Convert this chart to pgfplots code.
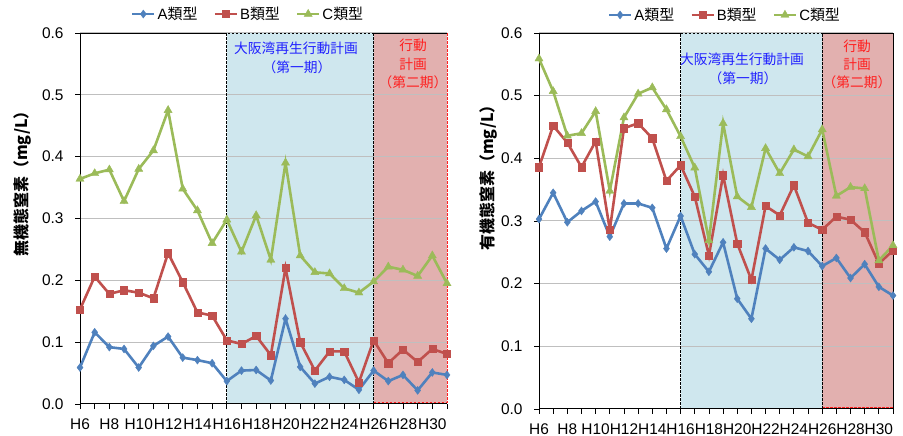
\documentclass[border=0pt]{standalone}
\usepackage{fontspec}
\setmainfont{Liberation Sans}
\newfontfamily\jp{Noto Sans CJK JP}
\usepackage{pgfplots}
\pgfplotsset{compat=1.18}
\usepackage{pgfplotstable}

\definecolor{cA}{HTML}{4F81BD}
\definecolor{cB}{HTML}{C0504D}
\definecolor{cC}{HTML}{9BBB59}
\definecolor{regB}{HTML}{CFE7EE}
\definecolor{regR}{HTML}{E2B0AF}
\definecolor{txtB}{HTML}{2020FF}
\definecolor{txtR}{HTML}{FF2020}
\definecolor{gridc}{HTML}{BFBFBF}

\pgfplotstableread{
i A B C
0 0.059 0.153 0.364
1 0.116 0.206 0.373
2 0.092 0.178 0.379
3 0.089 0.184 0.328
4 0.059 0.180 0.380
5 0.094 0.171 0.410
6 0.109 0.244 0.475
7 0.075 0.197 0.348
8 0.071 0.148 0.313
9 0.066 0.143 0.260
10 0.037 0.103 0.298
11 0.054 0.097 0.246
12 0.055 0.110 0.305
13 0.038 0.079 0.233
14 0.138 0.220 0.390
15 0.060 0.100 0.240
16 0.033 0.054 0.213
17 0.044 0.085 0.211
18 0.039 0.085 0.187
19 0.023 0.035 0.180
20 0.054 0.103 0.198
21 0.037 0.066 0.222
22 0.047 0.088 0.217
23 0.022 0.068 0.207
24 0.051 0.089 0.240
25 0.047 0.081 0.195
}\inorg

\pgfplotstableread{
i A B C
0 0.303 0.386 0.559
1 0.345 0.452 0.507
2 0.298 0.425 0.436
3 0.316 0.386 0.440
4 0.331 0.427 0.475
5 0.275 0.286 0.348
6 0.328 0.448 0.465
7 0.328 0.456 0.503
8 0.321 0.432 0.513
9 0.256 0.364 0.478
10 0.308 0.389 0.435
11 0.247 0.339 0.385
12 0.219 0.245 0.269
13 0.266 0.373 0.456
14 0.176 0.264 0.339
15 0.144 0.206 0.322
16 0.256 0.324 0.416
17 0.238 0.309 0.376
18 0.258 0.357 0.414
19 0.252 0.297 0.403
20 0.228 0.286 0.446
21 0.241 0.307 0.340
22 0.209 0.302 0.354
23 0.231 0.282 0.352
24 0.195 0.232 0.237
25 0.181 0.253 0.261
}\orgn

\pgfplotsset{
  mystyle/.style={
    scale only axis,
    anchor=south west,
    xmin=0, xmax=25, ymin=0, ymax=0.6,
    xtick={0,...,25},
    xticklabels={H6,,H8,,H10,,H12,,H14,,H16,,H18,,H20,,H22,,H24,,H26,,H28,,H30,},
    ytick={0,0.1,0.2,0.3,0.4,0.5,0.6},
    yticklabel style={xshift=-8bp, /pgf/number format/.cd, fixed, fixed zerofill, precision=1, assume math mode=true},
    xticklabel style={yshift=-6bp},
    ymajorgrids,
    grid style={gridc, line width=1bp},
    axis x line*=bottom, axis y line*=left,
    axis line style={black, line width=1bp, -},
    tick align=outside,
    major tick length=5bp,
    tick style={black, line width=0.8bp},
    ticklabel style={font=\fontsize{15.5}{18}\selectfont},
    clip=false,
    set layers,
    legend columns=3,
    legend style={draw=none, fill=none, font=\fontsize{15}{18}\selectfont, anchor=center,
      /tikz/every even column/.append style={column sep=14bp}},
    legend image code/.code={\draw[mark repeat=2,mark phase=2] plot coordinates {(0bp,0bp) (11bp,0bp) (22bp,0bp)};},
  },
  sA/.style={color=cA, line width=2.6bp, mark=diamond*, mark size=4bp, mark options={solid, line width=0.4bp}},
  sB/.style={color=cB, line width=2.6bp, mark=square*, mark size=3.6bp, mark options={solid, line width=0.4bp}},
  sC/.style={color=cC, line width=2.6bp, mark=triangle*, mark size=4.7bp, mark options={solid, line width=0.4bp}},
}

\begin{document}
\begin{tikzpicture}

% ---------- left panel ----------
\begin{axis}[mystyle, at={(80bp,32bp)}, width=367bp, height=371bp,
  legend style={at={(0.458,1.051)}}]
\begin{pgfonlayer}{axis background}
\fill[regB] (axis cs:10,0) rectangle (axis cs:20,0.6);
\fill[regR] (axis cs:20,0) rectangle (axis cs:25,0.6);
\end{pgfonlayer}
\begin{pgfonlayer}{pre main}
\draw[black, line width=0.8bp] (axis cs:0,0.6) -- (axis cs:10,0.6);
\draw[black, line width=0.8bp] (axis cs:20,0.6) -- (axis cs:25,0.6);
\draw[txtR, line width=0.8bp, dash pattern=on 2.5bp off 1.5bp] (axis cs:20,0.003) -- (axis cs:25,0.003) -- (axis cs:25,0.6);
\draw[black, line width=0.8bp, dash pattern=on 2.5bp off 1.5bp] (axis cs:10,0) -- (axis cs:10,0.6) -- (axis cs:20,0.6) (axis cs:20,0) -- (axis cs:20,0.6);
\end{pgfonlayer}
\addplot[sA] table[x=i, y=A] {\inorg};
\addlegendentry{A{\jp 類型}}
\addplot[sB] table[x=i, y=B] {\inorg};
\addlegendentry{B{\jp 類型}}
\addplot[sC] table[x=i, y=C] {\inorg};
\addlegendentry{C{\jp 類型}}
\end{axis}

% ---------- right panel ----------
\begin{axis}[mystyle, at={(539bp,27bp)}, width=354bp, height=376bp,
  legend style={at={(0.525,1.048)}}]
\begin{pgfonlayer}{axis background}
\fill[regB] (axis cs:10,0) rectangle (axis cs:20,0.6);
\fill[regR] (axis cs:20,0) rectangle (axis cs:25,0.6);
\end{pgfonlayer}
\begin{pgfonlayer}{pre main}
\draw[black, line width=0.8bp] (axis cs:0,0.6) -- (axis cs:10,0.6);
\draw[black, line width=0.8bp] (axis cs:20,0.6) -- (axis cs:25,0.6) -- (axis cs:25,0);
\draw[txtR, line width=0.8bp, dash pattern=on 2.5bp off 1.5bp] (axis cs:20,0.003) -- (axis cs:25,0.003);
\draw[black, line width=0.8bp, dash pattern=on 2.5bp off 1.5bp] (axis cs:10,0) -- (axis cs:10,0.6) -- (axis cs:20,0.6) (axis cs:20,0) -- (axis cs:20,0.6);
\end{pgfonlayer}
\addplot[sA] table[x=i, y=A] {\orgn};
\addlegendentry{A{\jp 類型}}
\addplot[sB] table[x=i, y=B] {\orgn};
\addlegendentry{B{\jp 類型}}
\addplot[sC] table[x=i, y=C] {\orgn};
\addlegendentry{C{\jp 類型}}
\end{axis}

% ---------- annotations ----------
\begin{scope}[every node/.style={font=\jp\fontsize{13.8}{16}\selectfont, inner sep=0pt}]
\node[text=txtB] at (296bp,388bp) {大阪湾再生行動計画};
\node[text=txtB] at (297bp,369bp) {（第一期）};
\node[text=txtR] at (413bp,391bp) {行動};
\node[text=txtR] at (413bp,372bp) {計画};
\node[text=txtR] at (413bp,354bp) {（第二期）};
\node[text=txtB] at (742bp,377bp) {大阪湾再生行動計画};
\node[text=txtB] at (743bp,358bp) {（第一期）};
\node[text=txtR] at (857bp,390bp) {行動};
\node[text=txtR] at (857bp,372bp) {計画};
\node[text=txtR] at (857bp,354bp) {（第二期）};
\end{scope}
\node[rotate=90, font=\jp\bfseries\fontsize{16}{18}\selectfont, inner sep=0pt] at (23bp,256bp) {無機態窒素（mg/L）};
\node[rotate=90, font=\jp\bfseries\fontsize{16}{18}\selectfont, inner sep=0pt] at (489bp,262bp) {有機態窒素（mg/L）};

\pgfresetboundingbox
\useasboundingbox (0,0) rectangle (903bp,436bp);
\end{tikzpicture}
\end{document}
